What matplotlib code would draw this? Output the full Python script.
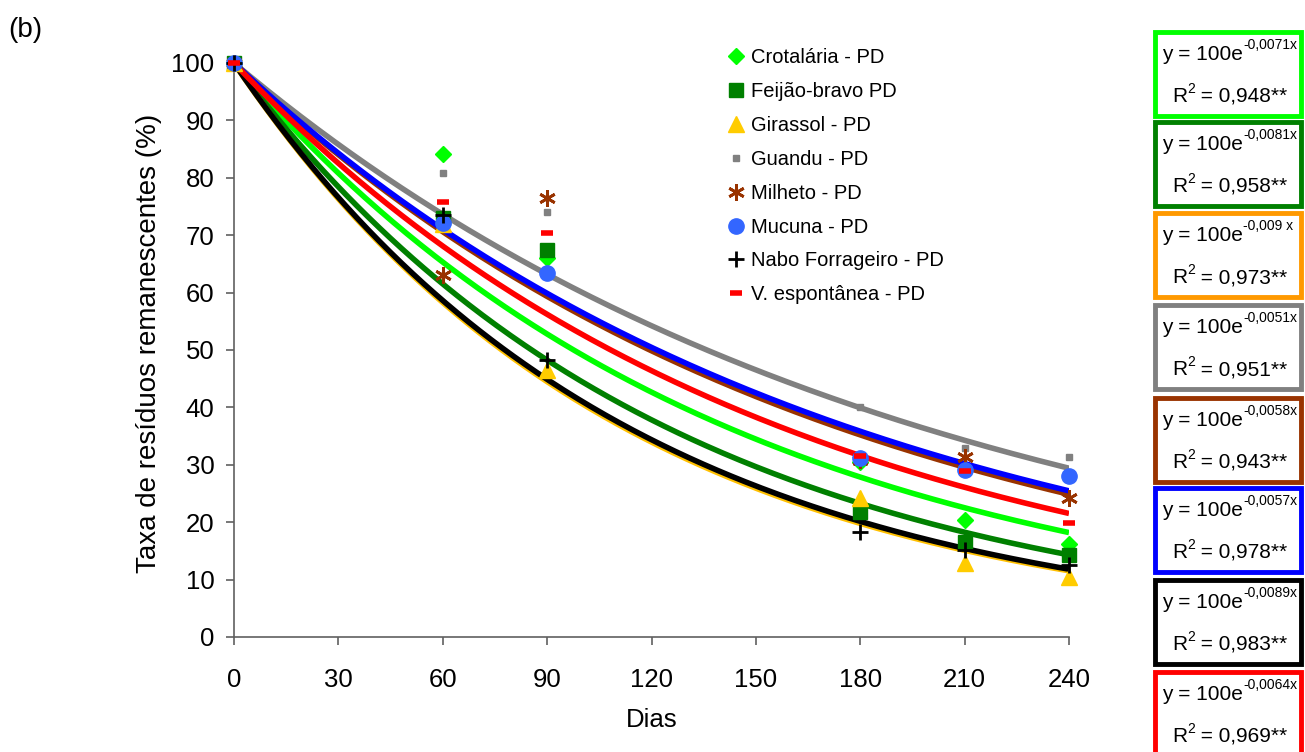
import numpy as np
import matplotlib
matplotlib.use("Agg")
import matplotlib.pyplot as plt
from matplotlib.patches import Rectangle
from matplotlib.text import Annotation

plt.rcParams['font.family'] = ['Liberation Sans', 'DejaVu Sans']

# days sampled
dias = [0, 60, 90, 180, 210, 240]
xticks = [0, 30, 60, 90, 120, 150, 180, 210, 240]

# observed residues remaining (%) per species
crotalaria = [100, 84.1, 66.0, 30.5, 20.4, 16.2]
feijao = [100, 73.0, 67.4, 21.8, 16.6, 14.3]
girassol = [100, 72.0, 46.5, 24.2, 12.9, 10.5]
guandu = [100, 80.8, 74.0, 40.1, 33.0, 31.4]
milheto = [100, 63.1, 76.5, 30.8, 31.4, 24.2]
mucuna = [100, 72.1, 63.4, 31.2, 29.1, 28.0]
nabo = [100, 73.5, 48.3, 18.3, 15.2, 12.5]
espontanea = [100, 75.8, 70.4, 31.5, 29.0, 19.9]

# fitted decay rates and R2 from the equation boxes
k_vals = [0.0071, 0.0081, 0.009, 0.0051, 0.0058, 0.0057, 0.0089, 0.0064]
k_text = ["-0,0071x", "-0,0081x", "-0,009 x", "-0,0051x", "-0,0058x", "-0,0057x", "-0,0089x", "-0,0064x"]
r2_text = ["0,948", "0,958", "0,973", "0,951", "0,943", "0,978", "0,983", "0,969"]

labels = ["Crotalária - PD", "Feijão-bravo PD", "Girassol - PD", "Guandu - PD",
          "Milheto - PD", "Mucuna - PD", "Nabo Forrageiro - PD", "V. espontânea - PD"]
series = [crotalaria, feijao, girassol, guandu, milheto, mucuna, nabo, espontanea]

line_colors = ["#00FF00", "#008000", "#FFC000", "#808080", "#993300", "#0000FF", "#000000", "#FF0000"]
box_colors = ["#00FF00", "#008000", "#FF9900", "#808080", "#993300", "#0000FF", "#000000", "#FF0000"]
mk_colors = ["#00FF00", "#008000", "#FFCC00", "#808080", "#993300", "#3366FF", "#000000", "#FF0000"]
markers = ["D", "s", "^", "s", (6, 2, 0), "o", "+", "_"]
msizes = [8, 10, 11, 5, 12, 11, 11, 8]
mews = [1, 1, 1, 1, 2, 1, 2, 4]

fig = plt.figure(figsize=(13.05, 7.52), dpi=100)
ax = fig.add_axes([234 / 1305, 1 - 637 / 752, (1069 - 234) / 1305, (637 - 63) / 752])

xx = np.linspace(0, 240, 300)
for k, c in zip(k_vals, line_colors):
    ax.plot(xx, 100 * np.exp(-k * xx), color=c, lw=4, solid_capstyle='butt', zorder=2)

handles = []
for y, lab, c, m, ms, mew in zip(series, labels, mk_colors, markers, msizes, mews):
    h, = ax.plot(dias, y, linestyle='none', marker=m, ms=ms, color=c, mec=c, mew=mew,
                 label=lab, clip_on=False, zorder=3)
    handles.append(h)

ax.set_xlim(0, 240)
ax.set_ylim(0, 100)
ax.set_xticks(xticks)
ax.set_yticks(range(0, 101, 10))
for s in ['top', 'right']:
    ax.spines[s].set_visible(False)
for s in ['left', 'bottom']:
    ax.spines[s].set_color('#606060')
    ax.spines[s].set_linewidth(1.2)
ax.tick_params(direction='out', length=6, width=1.2, color='#606060', labelsize=18.5)
ax.tick_params(axis='x', pad=16)
ax.tick_params(axis='y', pad=8)
ax.set_xlabel("Dias", fontsize=18.5, labelpad=12)
ax.set_ylabel("Taxa de resíduos remanescentes (%)", fontsize=20)
ax.yaxis.set_label_coords(-0.086, 0.512)

leg = fig.legend(handles=handles, loc='upper left', bbox_to_anchor=(719 / 1305, 1 - 40 / 752),
                 frameon=False, fontsize=14.5, handlelength=0.9, handletextpad=0.3,
                 labelspacing=0.74, borderaxespad=0)

fig.text(8 / 1305, 1 - 30 / 752, "(b)", fontsize=20, va='center', ha='left')

# equation boxes on the right
box_tops = [32, 122, 213, 305, 398, 488, 580, 672]
box_h = 84
for top, c, kt, rt in zip(box_tops, box_colors, k_text, r2_text):
    fig.patches.append(Rectangle((1155 / 1305, 1 - (top + box_h) / 752), 146 / 1305, box_h / 752,
                                 transform=fig.transFigure, fill=True, facecolor='white',
                                 edgecolor=c, lw=3.5, zorder=1))
    t1 = fig.text(1162 / 1305, 1 - (top + 28) / 752, "y = 100e", fontsize=15,
                  ha='left', va='baseline')
    fig.add_artist(Annotation(kt, xy=(1.0, 0.62), xycoords=t1, fontsize=10,
                              ha='left', va='bottom'))
    t2 = fig.text(1172 / 1305, 1 - (top + 70) / 752, "R", fontsize=15,
                  ha='left', va='baseline')
    fig.add_artist(Annotation("2", xy=(1.0, 0.55), xycoords=t2, fontsize=10,
                              ha='left', va='bottom'))
    fig.add_artist(Annotation(" = %s**" % rt, xy=(1.0, 0.0), xycoords=t2, xytext=(6, 0),
                              textcoords='offset points', fontsize=15, ha='left', va='bottom'))

fig.savefig("out.png", dpi=100)
